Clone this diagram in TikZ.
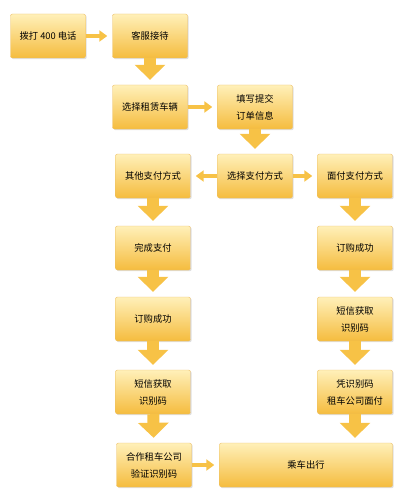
\documentclass[tikz,border=0pt]{standalone}
\usepackage{fontspec}
\newfontfamily\cjk{Noto Sans CJK SC}
\usetikzlibrary{arrows.meta,shadows}
\definecolor{boxtop}{RGB}{255,240,185}
\definecolor{boxbot}{RGB}{245,188,62}
\definecolor{boxline}{RGB}{236,190,100}
\definecolor{arrowcol}{RGB}{247,194,70}
\begin{document}
\begin{tikzpicture}[x=1pt,y=-1pt]
        \tikzstyle{step box}=[rectangle,rounded corners=2pt,draw=boxline,line width=0.4pt,top color=boxtop,bottom color=boxbot,minimum width=75pt,minimum height=44pt,align=center,font=\cjk\fontsize{9.3}{17}\selectfont,drop shadow={shadow xshift=1.2pt,shadow yshift=-1.2pt,opacity=0.25}]
        \tikzstyle{thin arrow}=[draw=arrowcol,line width=4.5pt,-{Triangle[length=8pt,width=11pt]},shorten >=5pt]
        \tikzstyle{fat arrow}=[draw=arrowcol,line width=12pt,-{Triangle[length=15pt,width=30pt]},shorten >=5pt]
        \useasboundingbox (0,0) rectangle (408,500);
       \begin{scope}
         \node [step box] (call) at (48,36) {拨打 400 电话};
         \node [step box] (service) at (150,36) {客服接待};
         \node [step box] (car) at (150,107) {选择租赁车辆};
         \node [step box] (order) at (255,107) {填写提交\\订单信息};
         \node [step box] (pay) at (255,176) {选择支付方式};
         \node [step box] (other) at (153,176) {其他支付方式};
         \node [step box] (face) at (355,176) {面付支付方式};
         \node [step box] (done) at (153,248) {完成支付};
         \node [step box] (okL) at (153,319) {订购成功};
         \node [step box] (smsL) at (153,392) {短信获取\\识别码};
         \node [step box] (check) at (154,465) {合作租车公司\\验证识别码};
         \node [step box] (okR) at (355,248) {订购成功};
         \node [step box] (smsR) at (355,319) {短信获取\\识别码};
         \node [step box] (code) at (355,392) {凭识别码\\租车公司面付};
         \node [step box,minimum width=173pt] (ride) at (306,465) {乘车出行};
         \path[thin arrow] (call) -- (service);
         \path[fat arrow] (service) -- (car);
         \path[thin arrow] (car) -- (order);
         \path[fat arrow] (order) -- (pay);
         \path[thin arrow] (pay) -- (other);
         \path[thin arrow] (pay) -- (face);
         \path[fat arrow] (other) -- (done);
         \path[fat arrow] (done) -- (okL);
         \path[fat arrow] (okL) -- (smsL);
         \path[fat arrow] (smsL) -- (check);
         \path[fat arrow] (face) -- (okR);
         \path[fat arrow] (okR) -- (smsR);
         \path[fat arrow] (smsR) -- (code);
         \path[fat arrow] (code.south) -- (code.south |- ride.north);
         \path[thin arrow] (check) -- (ride);
        \end{scope}
      \end{tikzpicture}
\end{document}
